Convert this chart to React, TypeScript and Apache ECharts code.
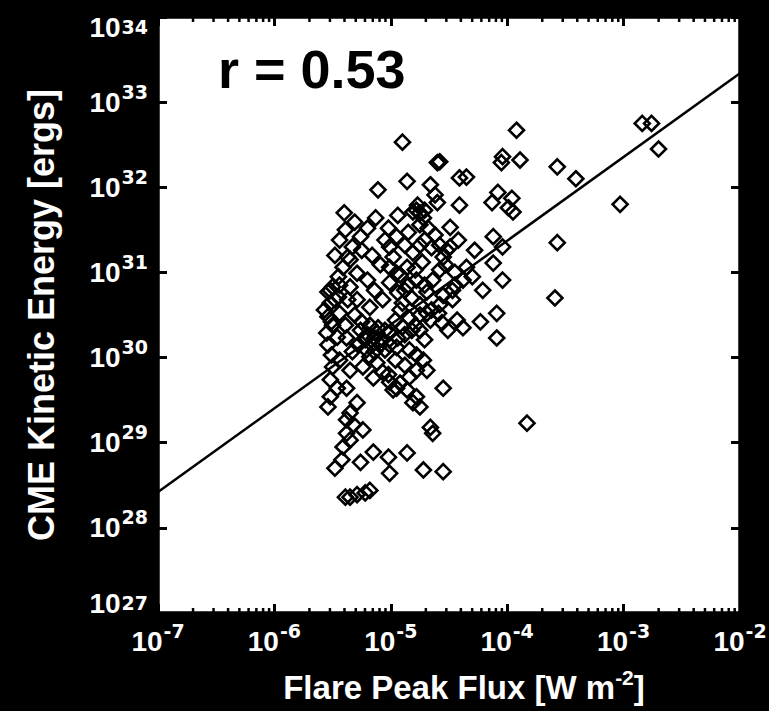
import React, { useEffect, useRef } from "react";
import * as echarts from "echarts";

// log10 of flare peak flux [W m^-2] for each event
const logFlux: number[] = [
  -4.90, -4.60, -4.41, -4.35, -4.86, -5.11, -4.66, -4.62, -4.60, -4.41,
  -5.40, -4.81, -4.75, -4.72, -4.78, -4.94, -5.13, -4.75, -3.92, -4.04,
  -4.05, -3.89, -3.57, -3.41, -2.84, -2.76, -2.70, -3.03, -3.57, -3.59,
  -3.83, -4.55, -4.58, -4.08, -4.13, -3.96, -3.99, -3.95,
  -5.20, -5.26, -5.33, -5.37, -5.41, -5.45, -5.50, -5.54, -5.52, -5.54, -5.55,
  -5.02, -4.95, -5.01, -4.98, -5.01, -4.95, -5.01, -4.94, -4.90,
  -4.81, -4.86, -4.78,
  -4.65, -4.55, -4.49, -4.42, -4.49,
  -4.58, -4.64, -4.55, -4.65, -4.59, -4.43, -4.38, -4.23, -4.09, -4.09,
  -4.35, -4.30, -4.38,
  -4.12, -4.04, -4.12, -4.04,
  -5.35, -5.29, -5.20, -5.35, -5.45, -5.29, -5.18, -5.44, -5.12, -5.26, -5.38,
  -5.51, -5.46, -5.07, -5.01, -4.90, -4.95, -4.84, -4.78, -4.72, -4.69, -4.78, -4.84, -4.92, -4.98, -4.86, -4.78, -4.75, -4.81,
  -4.66, -4.64,
  -5.18, -5.12, -5.24, -5.35, -5.44, -5.50, -5.52, -5.46, -5.38, -5.52, -5.54, -5.29, -5.35, -5.38, -5.32, -5.24, -5.38, -5.35, -5.41,
  -5.15, -5.07, -5.01, -4.95,
  -5.15, -5.02, -4.86, -5.26, -5.48, -5.42, -5.01, -4.72, -4.55,
  -5.35, -5.29, -5.22, -5.18, -5.39,
  -5.22, -5.16, -5.09, -5.05, -5.20, -5.14, -5.54, -5.51, -4.92, -4.84, -4.79, -4.88, -4.96, -4.75, -4.71, -4.69, -4.56, -4.51,
  -4.52,
  -5.16, -5.09, -5.14, -5.07, -5.25, -5.05, -4.88, -4.73, -4.69, -4.47, -4.45, -4.21, -4.28, -5.39, -5.31, -5.44, -5.48, -4.85, -4.71,
];

// log10 of CME kinetic energy [ergs] for each event
const logEnergy: number[] = [
  32.53, 32.29, 32.11, 32.12, 32.07, 31.97, 32.03, 31.91, 31.82, 31.79,
  31.70, 31.71, 31.70, 31.64, 31.73, 31.67, 31.64, 31.56, 32.67, 32.36,
  32.29, 32.32, 32.24, 32.10, 32.75, 32.75, 32.45, 31.80, 31.35, 30.70,
  29.23, 29.64, 32.30, 31.94, 31.82, 31.87, 31.76, 31.71,
  31.52, 31.42, 31.30, 31.18, 31.06, 30.95, 30.83, 30.77, 30.64, 30.48, 30.29,
  31.52, 31.42, 31.30, 31.18, 31.06, 30.99, 30.88, 30.76, 30.64,
  31.23, 31.06, 30.91,
  31.29, 31.18, 31.30, 31.38, 31.53,
  31.03, 30.91, 30.73, 30.56, 30.52, 30.44, 30.35, 30.42, 30.52, 30.23,
  31.06, 30.95, 30.91,
  31.42, 31.30, 31.11, 30.91,
  31.15, 30.99, 30.91, 30.83, 30.71, 30.68, 30.59, 30.52, 30.29, 30.32, 30.23,
  30.42, 30.24, 30.21, 30.29, 30.36, 30.12, 30.09, 30.03, 29.97, 29.85, 29.85, 29.77, 29.70, 29.62, 29.62, 29.54, 29.42, 29.47,
  29.18, 29.11,
  30.01, 29.94, 29.89, 29.85, 29.97, 29.89, 29.74, 29.64, 29.64, 29.54, 29.42, 29.47, 29.35, 29.27, 29.21, 29.15, 29.11, 29.03, 28.95,
  29.76, 29.83, 29.71, 29.64,
  28.89, 28.83, 28.88, 28.77, 28.70, 28.80, 28.64, 28.68, 28.66,
  28.36, 28.39, 28.41, 28.44, 28.36,
  30.21, 30.15, 30.15, 30.09, 30.27, 30.23, 30.15, 30.03, 30.56, 30.46, 30.38, 30.27, 30.44, 30.32, 30.21, 30.52, 30.41, 30.32,
  31.26,
  31.20, 31.09, 30.79, 30.68, 31.26, 31.38, 31.32, 31.12, 30.77, 30.68, 30.85, 30.79, 31.26, 31.50, 31.59, 31.38, 31.20, 31.47, 31.38,
];

// additional events in the crowded core of the cloud
const coreLogFlux: number[] = [
  -5.25, -5.18, -5.11, -5.05, -5.28, -5.21, -5.33, -5.14, -5.01, -4.94,
  -4.88, -4.82, -4.75, -4.71, -4.79, -4.92, -4.85, -4.66, -4.75, -4.82,
  -5.52, -5.48, -5.57, -5.50, -5.39, -5.44, -5.37, -5.31,
  -4.77, -4.71, -4.68, -4.62, -4.58, -4.75, -4.53, -4.45, -4.47, -4.58,
  -4.96, -4.88, -5.02,
];
const coreLogEnergy: number[] = [
  30.42, 30.38, 30.35, 30.32, 30.15, 30.09, 30.07, 30.07, 30.15, 30.23,
  30.79, 30.70, 30.62, 30.85, 31.03, 30.97, 30.85, 30.44, 30.50, 30.32,
  30.79, 30.68, 30.56, 30.38, 30.38, 30.85, 30.68, 30.50,
  31.79, 31.73, 31.52, 31.44, 31.32, 31.32, 31.09, 31.00, 30.79, 30.62,
  29.97, 29.91, 29.80,
];

// regression fit line end points
const fitFlux: number[] = [1e-7, 1e-2];
const fitEnergy: number[] = [2.63e28, 2.19e33];

const correlationLabel = "r = 0.53";

const xMinExp = -7;
const xMaxExp = -2;
const yMinExp = 27;
const yMaxExp = 34;
const minorMultipliers: number[] = [2, 3, 4, 5, 6, 7, 8, 9];

const FONT = "'Liberation Sans', Arial, Helvetica, sans-serif";
const SUP_FONT = "'DejaVu Sans', 'Liberation Sans', Arial, sans-serif";

export default function App() {
  const ref = useRef<HTMLDivElement>(null);

  useEffect(() => {
    if (!ref.current) return;
    const chart = echarts.init(ref.current, undefined, { renderer: "svg" });

    const allFlux = logFlux.concat(coreLogFlux);
    const allEnergy = logEnergy.concat(coreLogEnergy);
    const n = Math.min(allFlux.length, allEnergy.length);
    const points: number[][] = [];
    for (let i = 0; i < n; i++) points.push([Math.pow(10, allFlux[i]), Math.pow(10, allEnergy[i])]);

    const xMin = Math.pow(10, xMinExp);
    const xMax = Math.pow(10, xMaxExp);
    const yMin = Math.pow(10, yMinExp);
    const yMax = Math.pow(10, yMaxExp);

    const minorX: number[][] = [];
    for (let e = xMinExp; e < xMaxExp; e++) {
      for (const m of minorMultipliers) minorX.push([m * Math.pow(10, e), yMin]);
    }

    const base = { fontSize: 28, fontWeight: "bold" as const, color: "#fff", fontFamily: FONT };
    const sup = { fontSize: 19, fontWeight: "bold" as const, color: "#fff", fontFamily: SUP_FONT };

    const labelRich = {
      b: { ...base, lineHeight: 40 },
      s: { ...sup, lineHeight: 20, verticalAlign: "top" as const, padding: [0, 0, 0, 1] },
      bT: { ...base, lineHeight: 40, padding: [20, 0, 0, 0] },
      sT: { ...sup, lineHeight: 20, verticalAlign: "top" as const, padding: [20, 0, 0, 1] },
      bB: { ...base, lineHeight: 40, padding: [0, 0, 20, 0] },
      sB: { ...sup, lineHeight: 20, verticalAlign: "top" as const, padding: [0, 0, 20, 1] },
    };

    const expLabel = (v: number, kind: "x" | "y") => {
      const e = Math.round(Math.log10(v));
      let suffix = "";
      if (kind === "y" && e === yMaxExp) suffix = "T";
      if (kind === "y" && e === yMinExp) suffix = "B";
      return `{b${suffix}|10}{s${suffix}|${e}}`;
    };

    const hiddenAxisCommon = {
      axisLabel: { show: false },
      splitLine: { show: false },
      axisLine: { show: false },
    };

    const option: any = {
      animation: false,
      backgroundColor: "#000",
      grid: {
        left: 158,
        right: 29,
        top: 17,
        bottom: 98,
        show: true,
        backgroundColor: "#fff",
        borderColor: "#000",
        borderWidth: 3.5,
        containLabel: false,
        outerBoundsMode: "none",
      },
      xAxis: [
        {
          type: "log",
          logBase: 10,
          min: xMin,
          max: xMax,
          splitNumber: xMaxExp - xMinExp,
          position: "bottom",
          axisLine: { show: false },
          axisTick: { show: true, inside: true, length: 9, lineStyle: { color: "#000", width: 3 } },
          splitLine: { show: false },
          axisLabel: {
            show: true,
            margin: 8,
            fontSize: 28,
            fontWeight: "bold",
            color: "#fff",
            fontFamily: FONT,
            showMinLabel: true,
            showMaxLabel: true,
            hideOverlap: false,
            formatter: (v: number) => expLabel(v, "x"),
            rich: labelRich,
          },
          name: "{n|Flare Peak Flux [W m}{s|-2}{n|]}",
          nameLocation: "middle",
          nameGap: 54,
          nameTextStyle: {
            padding: [0, 0, 0, 30],
            rich: {
              n: { fontSize: 33, fontWeight: "bold", color: "#fff", fontFamily: FONT, lineHeight: 40 },
              s: { fontSize: 21, fontWeight: "bold", color: "#fff", fontFamily: FONT, lineHeight: 22, verticalAlign: "top" },
            },
          },
        },
        {
          type: "log",
          logBase: 10,
          min: xMin,
          max: xMax,
          splitNumber: xMaxExp - xMinExp,
          position: "top",
          axisTick: { show: true, inside: true, length: 9, lineStyle: { color: "#000", width: 3 } },
          ...hiddenAxisCommon,
        },
      ],
      yAxis: [
        {
          type: "log",
          logBase: 10,
          min: yMin,
          max: yMax,
          splitNumber: yMaxExp - yMinExp,
          position: "left",
          axisLine: { show: false },
          axisTick: { show: true, inside: true, length: 9, lineStyle: { color: "#000", width: 3 } },
          splitLine: { show: false },
          axisLabel: {
            show: true,
            margin: 10,
            fontSize: 28,
            fontWeight: "bold",
            color: "#fff",
            fontFamily: FONT,
            showMinLabel: true,
            showMaxLabel: true,
            hideOverlap: false,
            formatter: (v: number) => expLabel(v, "y"),
            rich: labelRich,
          },
          name: "CME Kinetic Energy [ergs]",
          nameLocation: "middle",
          nameGap: 99,
          nameTextStyle: { fontSize: 36, fontWeight: "bold", color: "#fff", fontFamily: FONT },
        },
        {
          type: "log",
          logBase: 10,
          min: yMin,
          max: yMax,
          splitNumber: yMaxExp - yMinExp,
          position: "right",
          axisTick: { show: true, inside: true, length: 9, lineStyle: { color: "#000", width: 3 } },
          ...hiddenAxisCommon,
        },
      ],
      graphic: [
        {
          type: "text",
          x: 218,
          y: 69,
          silent: true,
          z: 100,
          style: {
            text: correlationLabel,
            fill: "#000",
            font: `bold 54px ${FONT}`,
            align: "left",
            verticalAlign: "middle",
          },
        },
      ],
      series: [
        {
          type: "custom",
          xAxisIndex: 0,
          yAxisIndex: 0,
          silent: true,
          clip: false,
          z: 5,
          data: minorX,
          renderItem: (_params: any, api: any) => {
            const v = api.value(0);
            const pb = api.coord([v, yMin]);
            const pt = api.coord([v, yMax]);
            return {
              type: "group",
              children: [
                { type: "line", shape: { x1: pb[0], y1: pb[1], x2: pb[0], y2: pb[1] - 5 }, style: { stroke: "#000", lineWidth: 2.5 } },
                { type: "line", shape: { x1: pt[0], y1: pt[1], x2: pt[0], y2: pt[1] + 5 }, style: { stroke: "#000", lineWidth: 2.5 } },
              ],
            };
          },
        },
        {
          type: "line",
          xAxisIndex: 0,
          yAxisIndex: 0,
          silent: true,
          symbol: "none",
          data: fitFlux.map((x, i) => [x, fitEnergy[i]]),
          lineStyle: { color: "#000", width: 2.5 },
          z: 3,
        },
        {
          type: "scatter",
          xAxisIndex: 0,
          yAxisIndex: 0,
          silent: true,
          symbol: "diamond",
          symbolSize: 15,
          data: points,
          itemStyle: { color: "rgba(255,255,255,0)", borderColor: "#000", borderWidth: 2.6, opacity: 1 },
          z: 4,
        },
      ],
    };

    chart.setOption(option);
    return () => chart.dispose();
  }, []);

  return (
    <div
      ref={ref}
      style={{ position: "absolute", left: 0, top: 0, width: 769, height: 711 }}
    />
  );
}
